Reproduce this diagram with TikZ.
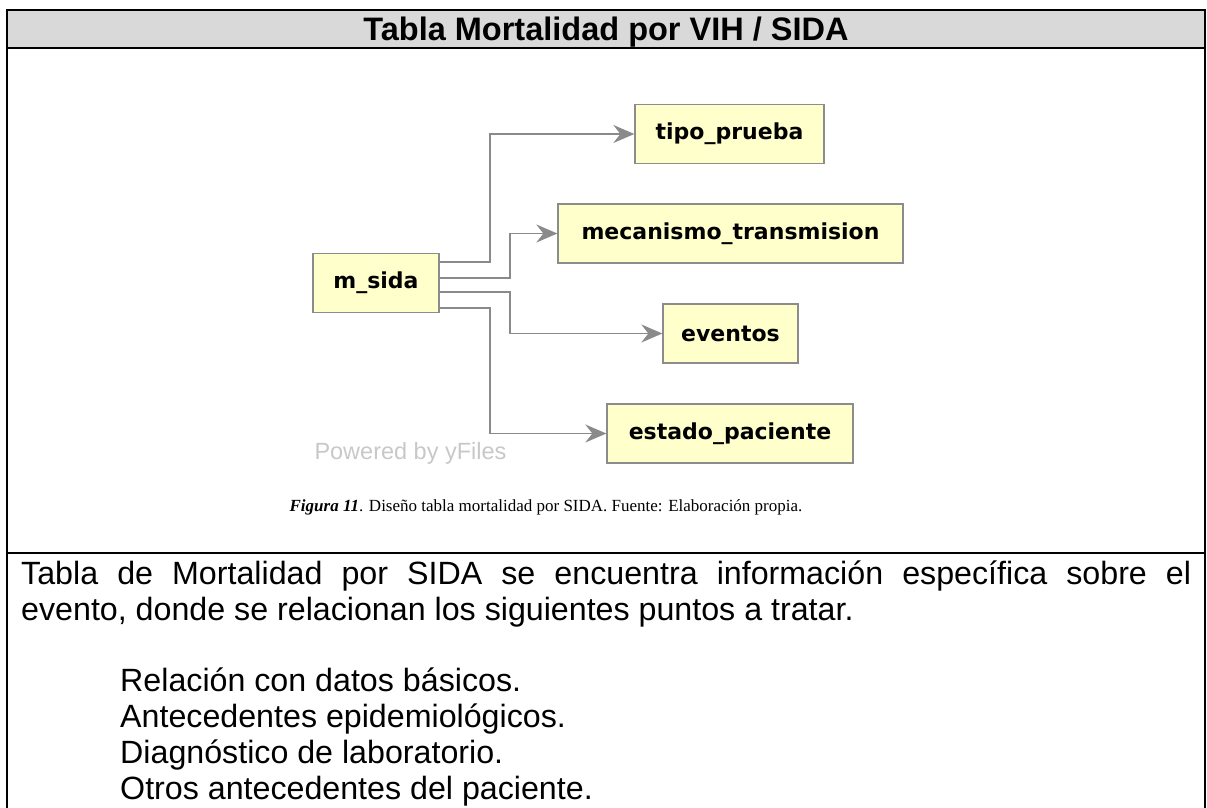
\documentclass[tikz,border=0pt]{standalone}
\usepackage{fontspec}
\setmainfont{Liberation Sans}
\newfontfamily\capfont{Liberation Serif}
\newfontfamily\nodefont{DejaVu Sans}
\usetikzlibrary{arrows.meta}
\definecolor{hdr}{HTML}{D9D9D9}
\definecolor{nfill}{HTML}{FFFFCC}
\definecolor{nline}{HTML}{8C8C8C}
\definecolor{eline}{HTML}{8A8A8A}
\definecolor{pw}{HTML}{C8C8C8}
\tikzset{
  frame/.style={line width=1.8pt, black},
  ent/.style={draw=nline, fill=nfill, line width=1.3pt, minimum height=59pt, inner xsep=8pt,
    font=\nodefont\bfseries\fontsize{22}{26}\selectfont},
  edge/.style={draw=eline, line width=1.8pt, -{Stealth[length=21pt,width=18pt,inset=7pt]}},
  body/.style={anchor=base west, inner sep=0, font=\fontsize{32.2}{36}\selectfont}
}
\begin{document}
\begin{tikzpicture}[x=1pt,y=-1pt]
\useasboundingbox (0,0) rectangle (1207,808);
\fill[hdr] (7,10) rectangle (1205,48);
\draw[frame] (7,808) -- (7,10) -- (1205,10) -- (1205,808);
\draw[frame] (7,48) -- (1205,48);
\draw[frame] (7,553) -- (1205,553);
\node[anchor=base, inner sep=0, font=\bfseries\fontsize{32.5}{36}\selectfont] (title) at (606,40.6) {Tabla Mortalidad por VIH / SIDA};

\node[ent, minimum width=126pt] (msida) at (376,283) {m\_sida};
\node[ent, minimum width=189pt] (tipo) at (729.5,134) {tipo\_prueba};
\node[ent, minimum width=345pt] (mec) at (730.5,233.5) {mecanismo\_transmision};
\node[ent, minimum width=135pt] (ev) at (730.5,333.5) {eventos};
\node[ent, minimum width=246pt] (est) at (730,433.5) {estado\_paciente};

\draw[edge] ([yshift=21pt]msida.east) -- ++(50,0) |- (tipo.west);
\draw[edge] ([yshift=5pt]msida.east) -- ++(70,0) |- (mec.west);
\draw[edge] ([yshift=-9pt]msida.east) -- ++(70,0) |- (ev.west);
\draw[edge] ([yshift=-25pt]msida.east) -- ++(50,0) |- (est.west);

\node[font=\fontsize{23.5}{26}\selectfont, text=pw, inner sep=0] (pwr) at (410.5,453) {Powered by yFiles};

\node[anchor=base, inner sep=0, font=\capfont\fontsize{17}{20}\selectfont] (cap) at (546,511) {\textbf{\textit{Figura 11}}. Diseño tabla mortalidad por SIDA. Fuente: Elaboración propia.};

\node[body] (p1) at (21,584.6) {\makebox[1170pt][s]{Tabla de Mortalidad por SIDA se encuentra información específica sobre el}};
\node[body] (p2) at (21,620.6) {evento, donde se relacionan los siguientes puntos a tratar.};
\node[body] (l1) at (120,691) {Relación con datos básicos.};
\node[body] (l2) at (120,727) {Antecedentes epidemiológicos.};
\node[body] (l3) at (120,763) {Diagnóstico de laboratorio.};
\node[body] (l4) at (120,799) {Otros antecedentes del paciente.};
\end{tikzpicture}
\end{document}
